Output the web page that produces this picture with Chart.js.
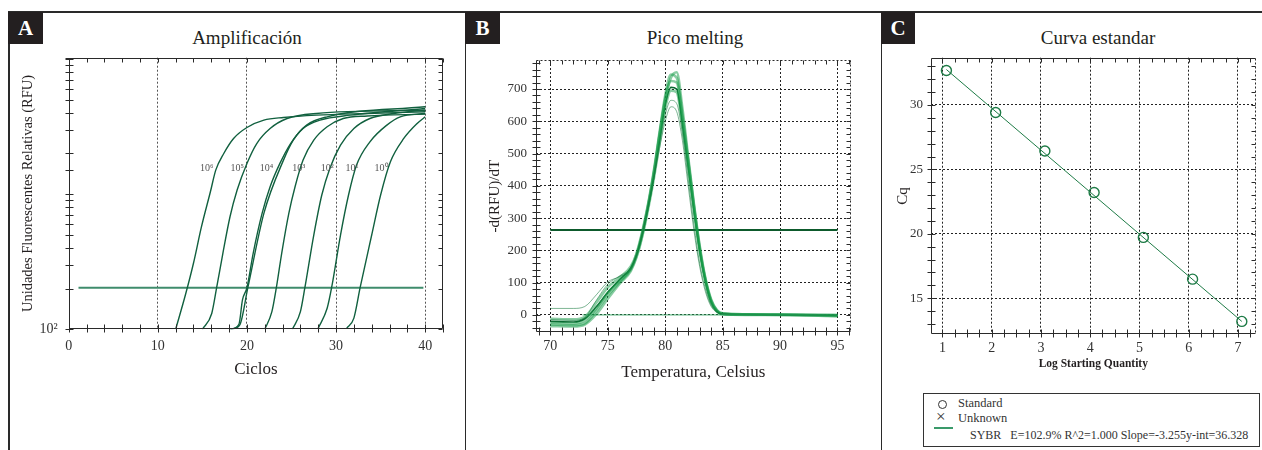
<!DOCTYPE html>
<html>
<head>
<meta charset="utf-8">
<script src="https://cdn.jsdelivr.net/npm/chart.js@4.4.1/dist/chart.umd.min.js"></script>
<style>
body { margin:0; width:1262px; height:450px; overflow:hidden; background:#fff; position:relative; font-family:"Liberation Serif", serif; color:#231f20; }
.rule { position:absolute; background:#2a2a2a; }
.tag { position:absolute; top:12px; height:32px; width:35px; background:#231f20; color:#fff; font-weight:bold; font-size:21px; text-align:center; line-height:33px; }
.ttl { position:absolute; top:27px; font-size:19px; transform:translateX(-50%); white-space:nowrap; }
canvas { position:absolute; }
#legC { position:absolute; left:923px; top:393px; width:335px; height:52px; border:1px solid #333; font-size:12.5px; color:#333; }
#legC div { position:absolute; white-space:nowrap; }
</style>
</head>
<body>
<div class="rule" style="left:8px;top:11px;width:1254px;height:1.5px"></div>
<div class="rule" style="left:8px;top:11px;width:1.5px;height:439px"></div>
<div class="rule" style="left:464.5px;top:11px;width:1.5px;height:439px"></div>
<div class="rule" style="left:880.5px;top:11px;width:1.5px;height:439px"></div>
<div class="tag" style="left:8px">A</div>
<div class="tag" style="left:465px">B</div>
<div class="tag" style="left:881px;width:34px">C</div>
<div class="ttl" style="left:247px">Amplificación</div>
<div class="ttl" style="left:695px">Pico melting</div>
<div class="ttl" style="left:1098px">Curva estandar</div>

<canvas id="chartA" width="450" height="335" style="left:10px;top:50px"></canvas>
<canvas id="chartB" width="395" height="335" style="left:470px;top:50px"></canvas>
<canvas id="chartC" width="378" height="321" style="left:884px;top:50px"></canvas>

<div id="legC">
  <div style="left:14px;top:6px;width:7px;height:7px;border:1.2px solid #333;border-radius:50%"></div>
  <div style="left:34px;top:2px">Standard</div>
  <div style="left:12px;top:14px;font-size:17px;line-height:17px">×</div>
  <div style="left:34px;top:17px">Unknown</div>
  <div style="left:10px;top:33px;width:19px;height:1.5px;background:#3a9a6a"></div>
  <div style="left:46px;top:34px;font-size:12px">SYBR&nbsp;&nbsp;&nbsp;E=102.9% R^2=1.000 Slope=-3.255y-int=36.328</div>
</div>

<script>
// ---- A: amplificación (ciclos vs RFU, log) ----
const cyc6 = [12.0, 13.1, 14.0, 14.9, 15.9, 16.5, 17.4, 18.5, 20.0, 21.9, 24.1, 27.8, 33.5, 40];
const rfu6 = [100, 180, 308, 574, 1040, 1504, 1997, 2578, 3109, 3522, 3686, 3835, 3948, 4059];
const cyc5 = [15.0, 16.05, 16.6, 17.3, 18.1, 18.9, 20.0, 21.1, 22.6, 24.5, 27.8, 40];
const rfu5 = [100, 131, 203, 365, 680, 1071, 1686, 2366, 3055, 3623, 3948, 4178];
const cyc4a = [18.1, 19.1, 19.5, 20.0, 20.7, 21.7, 22.6, 23.7, 24.9, 26.3, 28.2, 31.6, 40];
const rfu4a = [100, 109, 165, 203, 365, 720, 1133, 1686, 2366, 3055, 3522, 3835, 4299];
const cyc4b = [18.2, 19.2, 20.1, 21.9, 24.1, 25.2, 26.7, 29.0, 40];
const rfu4b = [100, 108, 203, 720, 1783, 2506, 3237, 3727, 4422];
const cyc3 = [22.0, 22.8, 23.3, 23.9, 24.7, 25.4, 26.3, 27.5, 29.0, 30.8, 33.5, 40];
const rfu3 = [100, 135, 203, 365, 720, 1133, 1783, 2506, 3146, 3620, 3780, 3900];
const cyc2 = [25.1, 26.0, 26.5, 27.5, 28.4, 29.3, 30.5, 32.0, 33.8, 36.5, 40];
const rfu2 = [100, 135, 203, 498, 984, 1548, 2300, 3055, 3623, 3948, 4178];
const cyc1 = [28.0, 29.0, 29.5, 30.5, 31.4, 32.3, 33.8, 35.7, 37.2, 40];
const rfu1 = [102, 143, 203, 498, 984, 1638, 2436, 3237, 3727, 3948];
const cyc0 = [31.2, 32.0, 32.7, 34.0, 35.0, 36.1, 37.6, 39.1, 40];
const rfu0 = [102, 121, 203, 498, 984, 1735, 2578, 3329, 3727];
const thrCycA = [1.1, 39.8];
const thrA = 203;
const tagText = ['10⁶', '10⁵', '10⁴', '10³', '10²', '10¹', '10⁰'];
const tagCyc = [15.5, 18.9, 22.2, 25.8, 29.0, 31.8, 35.1];
const tagRfu = 1548;

// ---- B: pico melting ----
const meltT = [70, 72, 73, 74, 75, 76, 77, 77.5, 78, 78.5, 79, 79.5, 80, 80.5, 81, 81.5, 82, 82.5, 83, 83.5, 84, 84.5, 85, 87, 90, 95];
const melt1 = [-20, -22, -12, 25, 70, 108, 145, 185, 250, 330, 425, 540, 650, 705, 700, 590, 460, 325, 200, 105, 40, 11, 2, 1, 0, -2];
const melt2 = [-30, -32, -26, 12, 60, 100, 140, 182, 248, 335, 435, 555, 665, 725, 720, 610, 475, 335, 205, 108, 42, 12, 3, 1, 0, -1];
const melt3 = [-12, -14, -6, 38, 85, 115, 150, 190, 258, 342, 445, 565, 680, 745, 735, 620, 480, 340, 210, 110, 45, 14, 4, 2, 1, -3];
const melt4 = [-35, -36, -30, 2, 50, 95, 136, 178, 242, 325, 420, 530, 640, 695, 690, 585, 455, 320, 196, 102, 38, 10, 2, 0, 0, -4];
const melt5 = [-25, -27, -18, 20, 68, 105, 143, 188, 254, 338, 440, 558, 670, 735, 752, 640, 490, 345, 215, 114, 48, 15, 5, 2, 1, 0];
const meltO1 = [20, 20, 26, 62, 102, 118, 140, 182, 245, 330, 420, 515, 600, 645, 630, 540, 400, 262, 150, 72, 26, 8, 3, 1, 0, 0];
const meltO2 = [-15, -17, -8, 45, 95, 120, 146, 188, 252, 338, 430, 530, 620, 665, 655, 560, 420, 278, 160, 80, 30, 10, 3, 1, 0, -1];
const thrTempB = [70, 95];
const thrB = 263;
const zeroTempB = [72.8, 95];

// ---- C: curva estandar ----
const logQty = [1.08, 2.08, 3.08, 4.08, 5.08, 6.08, 7.08];
const cqVals = [32.68, 29.42, 26.43, 23.21, 19.72, 16.48, 13.2];
const fitX = [1.08, 7.08];
const fitY = [32.75, 13.2];

Chart.defaults.font.family = '"Liberation Serif", serif';
Chart.defaults.color = '#333';

const pts = (xs, ys) => xs.map((x, i) => ({x: x, y: ys[i]}));
const flat = (xs, v) => xs.map(x => ({x: x, y: v}));

const fixW = w => s => { s.width = w; s.paddingTop = 0; s.paddingBottom = 0; s.paddingLeft = 0; s.paddingRight = 0; };
const fixH = h => s => { s.height = h; s.paddingTop = 0; s.paddingBottom = 0; s.paddingLeft = 0; s.paddingRight = 0; };

// frame + ticks crossing the axes
const frameTicks = {
  id: 'frameTicks',
  afterDraw(chart, args, opts) {
    const {ctx, chartArea: a, scales} = chart;
    const L = Math.round(a.left) + 0.5, R = Math.round(a.right) - 0.5;
    const T = Math.round(a.top) + 0.5, B = Math.round(a.bottom) - 0.5;
    ctx.save();
    ctx.strokeStyle = '#2a2a2a';
    ctx.lineWidth = 1;
    const line = (x1, y1, x2, y2, dash) => {
      ctx.setLineDash(dash ? [2, 2] : []);
      ctx.beginPath(); ctx.moveTo(x1, y1); ctx.lineTo(x2, y2); ctx.stroke();
    };
    line(L, T, L, B); line(L, B, R, B);
    line(L, T, R, T, opts.dashTop); line(R, T, R, B, opts.dashRight);
    scales.x.ticks.forEach(t => {
      const p = Math.round(scales.x.getPixelForValue(t.value)) + 0.5;
      line(p, B - 4, p, B + 4); line(p, T, p, T + 4);
    });
    scales.y.ticks.forEach(t => {
      const p = Math.round(scales.y.getPixelForValue(t.value)) + 0.5;
      line(L - 4, p, L + 4, p); line(R - 4, p, R, p);
    });
    ctx.restore();
  }
};

const curveTags = {
  id: 'curveTags',
  afterDatasetsDraw(chart) {
    const {ctx, scales} = chart;
    ctx.save();
    ctx.font = '10px "Liberation Serif", serif';
    ctx.fillStyle = '#555';
    ctx.textAlign = 'center';
    ctx.textBaseline = 'middle';
    tagText.forEach((t, i) => {
      ctx.fillText(t, scales.x.getPixelForValue(tagCyc[i]), scales.y.getPixelForValue(tagRfu));
    });
    ctx.restore();
  }
};

const base = (pad, extra) => Object.assign({
  responsive: false, animation: false, events: [],
  layout: {padding: pad},
  plugins: {legend: {display: false}, tooltip: {enabled: false}}
}, extra);

// A
const ampSets = [[cyc6, rfu6], [cyc5, rfu5], [cyc4a, rfu4a], [cyc4b, rfu4b], [cyc3, rfu3], [cyc2, rfu2], [cyc1, rfu1], [cyc0, rfu0]];
const gridA = c => (c.tick && c.tick.value % 10 === 0 && c.tick.value > 0) ? '#555' : 'rgba(0,0,0,0)';
const optsA = base({left: 0, top: 7.7, right: 17, bottom: 0}, {
  scales: {
    x: { type: 'linear', min: 0, max: 42, afterFit: fixH(55.7),
      ticks: {stepSize: 2, autoSkip: false, maxRotation: 0, includeBounds: false, padding: 9, font: {size: 14},
        callback: v => v % 10 === 0 ? v : ''},
      grid: {drawTicks: false, color: gridA},
      border: {display: false, dash: [2, 2]},
      title: {display: true, text: 'Ciclos', font: {size: 17}, color: '#231f20', padding: {top: 0, bottom: 5}} },
    y: { type: 'logarithmic', min: 100, max: 10200, afterFit: fixW(58.7),
      ticks: {autoSkip: false, padding: 11, font: {size: 14}, callback: v => v === 100 ? '10²' : ''},
      grid: {display: false, drawTicks: false},
      border: {display: false},
      title: {display: true, text: 'Unidades Fluorescentes Relativas (RFU)', font: {size: 14.5}, color: '#231f20', padding: {top: 9, bottom: 0}} }
  }
});
optsA.plugins.frameTicks = {dashTop: false, dashRight: false};
new Chart(document.getElementById('chartA'), {
  type: 'line',
  data: { datasets: ampSets.map(s => ({
      data: pts(s[0], s[1]), borderColor: '#11603f', borderWidth: 1.4, pointRadius: 0, cubicInterpolationMode: 'monotone'
    })).concat([{ data: flat(thrCycA, thrA), borderColor: '#3f8c6c', borderWidth: 2, pointRadius: 0 }]) },
  options: optsA,
  plugins: [frameTicks, curveTags]
});

// B
const gridBx = c => (c.tick && c.tick.value % 5 === 0 && c.tick.value >= 70 && c.tick.value <= 95) ? '#222' : 'rgba(0,0,0,0)';
const gridBy = c => (c.tick && c.tick.value % 100 === 0 && c.tick.value >= 0) ? '#222' : 'rgba(0,0,0,0)';
const optsB = base({left: 0, top: 10, right: 14.3, bottom: 0}, {
  scales: {
    x: { type: 'linear', min: 68.75, max: 96.15, afterFit: fixH(52.7),
      ticks: {stepSize: 1, autoSkip: false, maxRotation: 0, includeBounds: false, padding: 6, font: {size: 14},
        callback: v => (v % 5 === 0 && v >= 70 && v <= 95) ? v : ''},
      grid: {drawTicks: false, color: gridBx},
      border: {display: false, dash: [2, 2]},
      title: {display: true, text: 'Temperatura, Celsius', font: {size: 17}, color: '#231f20', padding: {top: 0, bottom: 2}} },
    y: { type: 'linear', min: -54, max: 790, afterFit: fixW(66),
      ticks: {stepSize: 20, autoSkip: false, includeBounds: false, padding: 9, font: {size: 13},
        callback: v => (v % 100 === 0 && v >= 0 && v <= 700) ? v : ''},
      grid: {drawTicks: false, color: gridBy},
      border: {display: false, dash: [2, 2]},
      title: {display: true, text: '-d(RFU)/dT', font: {size: 15}, color: '#231f20', padding: {top: 16, bottom: 0}} }
  }
});
optsB.plugins.frameTicks = {dashTop: true, dashRight: true};
const bundle = [melt2, melt3, melt4, melt5];
const meltLine = (vals, color, w) => ({ data: pts(meltT, vals), borderColor: color, borderWidth: w, pointRadius: 0, cubicInterpolationMode: 'monotone' });
new Chart(document.getElementById('chartB'), {
  type: 'line',
  data: { datasets: [
      { data: flat(zeroTempB, 0), borderColor: 'rgba(40,160,90,0.7)', borderWidth: 1.2, pointRadius: 0 },
      meltLine(meltO1, 'rgba(20,120,60,0.55)', 1),
      meltLine(meltO2, 'rgba(20,120,60,0.55)', 1)
    ].concat(bundle.map(v => meltLine(v, 'rgba(22,155,72,0.5)', 2.6)))
     .concat([meltLine(melt1, '#0b6a32', 1.6),
      { data: flat(thrTempB, thrB), borderColor: '#0d5a2c', borderWidth: 2, pointRadius: 0 }]) },
  options: optsB,
  plugins: [frameTicks]
});

// C
const gridCx = c => (c.tick && Number.isInteger(c.tick.value)) ? '#222' : 'rgba(0,0,0,0)';
const gridCy = c => (c.tick && c.tick.value % 5 === 0) ? '#222' : 'rgba(0,0,0,0)';
const optsC = base({left: 0, top: 7.7, right: 0, bottom: 0}, {
  scales: {
    x: { type: 'linear', min: 0.767, max: 7.36, afterFit: fixH(36.7),
      ticks: {stepSize: 0.25, autoSkip: false, maxRotation: 0, includeBounds: false, padding: 6, font: {size: 14},
        callback: v => Number.isInteger(v) ? v : ''},
      grid: {drawTicks: false, color: gridCx},
      border: {display: false, dash: [2, 2]},
      title: {display: true, text: 'Log Starting Quantity', font: {size: 11.5, weight: 'bold'}, color: '#231f20', padding: {top: 0, bottom: 0}} },
    y: { type: 'linear', min: 12.2, max: 33.67, afterFit: fixW(47),
      ticks: {stepSize: 1, autoSkip: false, includeBounds: false, padding: 8, font: {size: 13},
        callback: v => v % 5 === 0 ? v : ''},
      grid: {drawTicks: false, color: gridCy},
      border: {display: false, dash: [2, 2]},
      title: {display: true, text: 'Cq', font: {size: 15}, color: '#231f20', padding: {top: 10, bottom: 0}} }
  }
});
optsC.plugins.frameTicks = {dashTop: false, dashRight: true};
new Chart(document.getElementById('chartC'), {
  type: 'scatter',
  data: { datasets: [
    { data: pts(fitX, fitY), showLine: true, borderColor: '#1e7b46', borderWidth: 1, pointRadius: 0 },
    { data: pts(logQty, cqVals), showLine: false, pointStyle: 'circle', pointRadius: 5,
      pointBorderColor: '#1e7b46', pointBackgroundColor: 'rgba(0,0,0,0)', pointBorderWidth: 1.4 }
  ]},
  options: optsC,
  plugins: [frameTicks]
});
</script>
</body>
</html>
